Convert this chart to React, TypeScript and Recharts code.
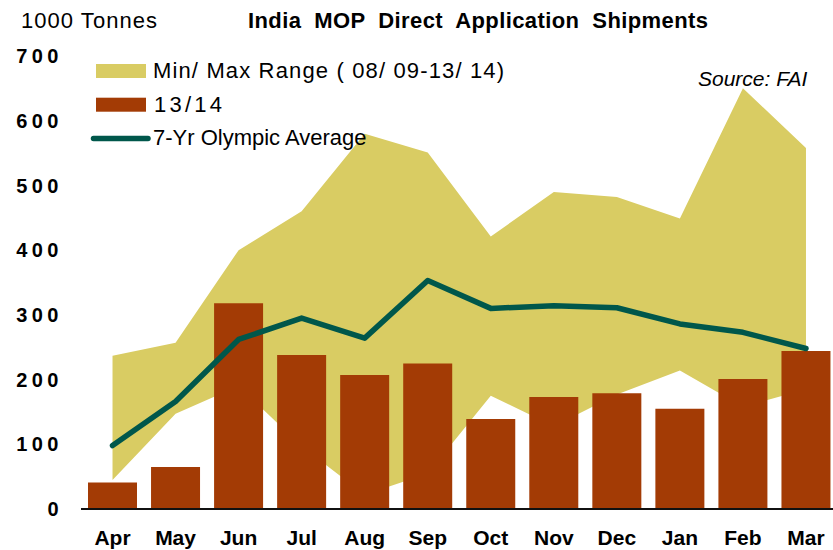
import { ComposedChart, Area, Bar, Line, XAxis, YAxis } from 'recharts'

const months = ['Apr', 'May', 'Jun', 'Jul', 'Aug', 'Sep', 'Oct', 'Nov', 'Dec', 'Jan', 'Feb', 'Mar']
const season1314 = [41, 65, 318, 238, 207, 225, 139, 173, 179, 155, 201, 244]
const olympicAvg = [98, 166, 262, 295, 264, 353, 310, 314, 311, 286, 273, 248]
const rangeMax = [237, 257, 400, 460, 580, 551, 421, 490, 482, 449, 650, 558]
const rangeMin = [45, 147, 190, 97, 22, 55, 175, 128, 177, 214, 158, 185]
const yTicks = [0, 100, 200, 300, 400, 500, 600, 700]

const YELLOW = '#D9CC63'
const BROWN = '#A33B05'
const TEAL = '#00574B'
const FONT = '"Liberation Sans", Arial, sans-serif'

const data = months.map((m, i) => ({
  month: m,
  range: [rangeMin[i], rangeMax[i]],
  s1314: season1314[i],
  avg: olympicAvg[i],
}))

export default function App() {
  return (
    <div style={{ position: 'fixed', left: 0, top: 0, width: 833, height: 550, overflow: 'hidden', background: '#fff', fontFamily: FONT }}>
      <ComposedChart width={850} height={550} data={data} margin={{ top: 56, right: 12.5, bottom: 11, left: 0 }} style={{ fontFamily: FONT }}>
        <XAxis dataKey="month" height={30} interval={0} tickLine={false} tickSize={0} tickMargin={21}
          axisLine={{ stroke: '#111', strokeWidth: 2 }}
          tick={{ fontSize: 21, fontWeight: 'bold', fill: '#000' }} />
        <YAxis domain={[0, 700]} ticks={yTicks} width={81} axisLine={false} tickLine={false} tickSize={0} tickMargin={18}
          tick={{ fontSize: 20, fontWeight: 'bold', fill: '#000', letterSpacing: 4.5 }} />
        <Area dataKey="range" type="linear" fill={YELLOW} fillOpacity={1} stroke="none" dot={false} activeDot={false} isAnimationActive={false} />
        <Bar dataKey="s1314" fill={BROWN} barSize={49} isAnimationActive={false} />
        <Line dataKey="avg" type="linear" stroke={TEAL} strokeWidth={5.5} strokeLinejoin="round" strokeLinecap="round" dot={false} activeDot={false} isAnimationActive={false} />
      </ComposedChart>

      {/* titles, legend, source */}
      <svg width={833} height={550} style={{ position: 'absolute', left: 0, top: 0, pointerEvents: 'none' }}>
        <text x={21} y={28.3} fontSize={22} fill="#000" textLength={136} lengthAdjust="spacing">1000 Tonnes</text>
        <text x={248} y={28.3} fontSize={22} fontWeight="bold" fill="#000" textLength={460} lengthAdjust="spacing" style={{ whiteSpace: 'pre' }}>
          {'India  MOP  Direct  Application  Shipments'}
        </text>

        <rect x={96} y={64} width={50} height={14} fill={YELLOW} />
        <text x={153} y={78.3} fontSize={22} fill="#000" textLength={351} lengthAdjust="spacing">Min/ Max Range ( 08/ 09-13/ 14)</text>

        <rect x={96} y={97.7} width={50} height={14} fill={BROWN} />
        <text x={154} y={111.7} fontSize={22} fill="#000" textLength={68} lengthAdjust="spacing">13/14</text>

        <line x1={93.5} x2={148} y1={138.5} y2={138.5} stroke={TEAL} strokeWidth={5.5} strokeLinecap="round" />
        <text x={153} y={145} fontSize={22} fill="#000">7-Yr Olympic Average</text>

        <text x={698} y={85.7} fontSize={21} fontStyle="italic" fill="#000">Source: FAI</text>
      </svg>
    </div>
  )
}
